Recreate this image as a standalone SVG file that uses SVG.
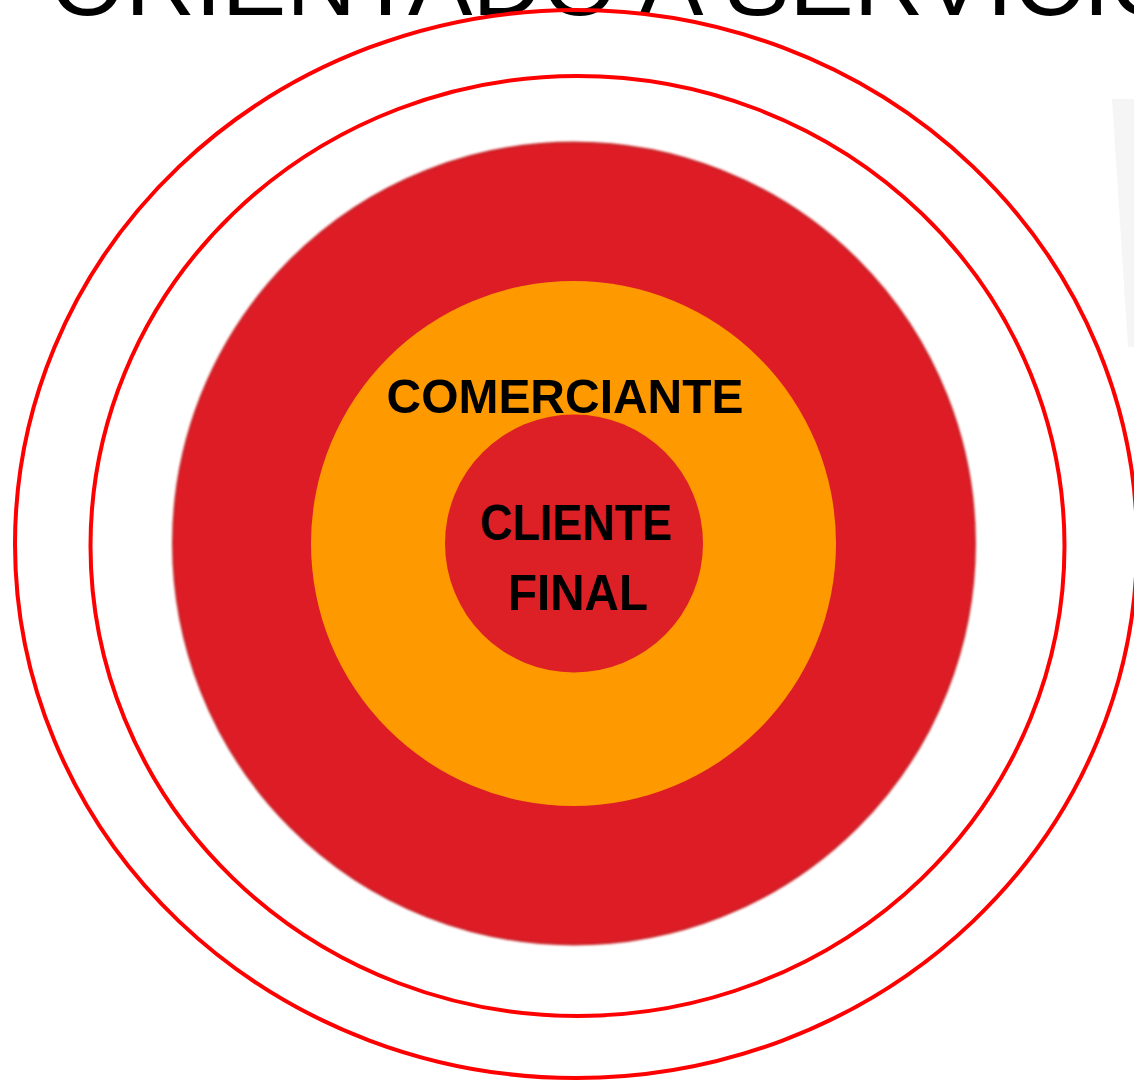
<svg xmlns="http://www.w3.org/2000/svg" width="1134" height="1081" viewBox="0 0 1134 1081">
  <style>
    .ring { fill: none; stroke: #FF0000; stroke-width: 4; }
    .label { font-family: "Liberation Sans", Arial, sans-serif; font-weight: bold; fill: #000; text-anchor: middle; }
    .title { font-family: "Liberation Sans", Arial, sans-serif; font-weight: normal; fill: #000; }
  </style>
  <defs>
    <filter id="soft" x="-5%" y="-5%" width="110%" height="110%">
      <feGaussianBlur stdDeviation="1"/>
    </filter>
  </defs>
  <rect x="0" y="0" width="1134" height="1081" fill="#FFFFFF"/>
  <polygon points="1112,99 1134,99 1134,347 1128,347" fill="#F6F5F5"/>
  <text class="title" x="50" y="15" font-size="95" textLength="1135" lengthAdjust="spacingAndGlyphs">ORIENTADO A SERVICIO</text>
  <g id="outer-ring">
    <ellipse class="ring" cx="576" cy="544" rx="561" ry="534"/>
  </g>
  <g id="inner-ring">
    <ellipse class="ring" cx="577.5" cy="546" rx="487" ry="470"/>
  </g>
  <g id="red-circle">
    <circle cx="574" cy="543.5" r="401" fill="#DD1F26" stroke="#C9252B" stroke-width="2" filter="url(#soft)"/>
  </g>
  <g id="comerciante">
    <circle cx="573.5" cy="543.5" r="262.5" fill="#FE9900"/>
    <text class="label" x="565" y="413" font-size="49" textLength="357" lengthAdjust="spacingAndGlyphs">COMERCIANTE</text>
  </g>
  <g id="cliente-final">
    <circle cx="574" cy="543.5" r="129" fill="#DD1F26"/>
    <text class="label" x="576" y="540" font-size="50" textLength="192" lengthAdjust="spacingAndGlyphs">CLIENTE</text>
    <text class="label" x="578" y="610" font-size="50" textLength="140" lengthAdjust="spacingAndGlyphs">FINAL</text>
  </g>
  <g id="connectors"/>
</svg>
